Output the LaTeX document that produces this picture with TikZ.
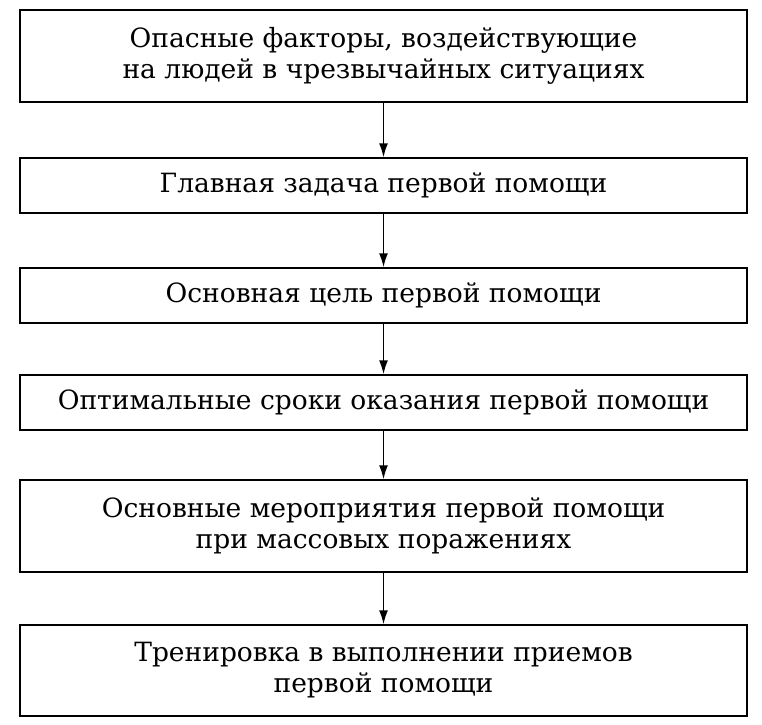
\documentclass[tikz,border=0pt]{standalone}
\usepackage{fontspec}
\setmainfont{DejaVu Serif}
\usetikzlibrary{arrows.meta}
\tikzset{every picture/.style={line width=1.5pt}}
\tikzset{stepbox/.style={draw, minimum width=727pt, align=center, inner sep=0pt, font=\fontsize{26.5}{31}\selectfont},
  flow/.style={-{Latex[length=14pt,width=9pt]}}}
\begin{document}
\begin{tikzpicture}[x=1pt,y=-1pt]
\useasboundingbox (0,0) rectangle (762,724);

% Text Node
\node [stepbox, minimum height=92pt] (fact) at (383.5,56) {Опасные факторы, воздействующие\\на людей в чрезвычайных ситуациях};
% Text Node
\node [stepbox, minimum height=55pt] (task) at (383.5,185.5) {Главная задача первой помощи};
% Text Node
\node [stepbox, minimum height=55pt] (goal) at (383.5,295.5) {Основная цель первой помощи};
% Text Node
\node [stepbox, minimum height=55pt] (time) at (383.5,402.5) {Оптимальные сроки оказания первой помощи};
% Text Node
\node [stepbox, minimum height=92pt] (meas) at (383.5,526) {Основные мероприятия первой помощи\\при массовых поражениях};
% Text Node
\node [stepbox, minimum height=91pt] (train) at (383.5,670.5) {Тренировка в выполнении приемов\\первой помощи};

%Straight Lines
\draw [flow] (fact) -- (task);
\draw [flow] (task) -- (goal);
\draw [flow] (goal) -- (time);
\draw [flow] (time) -- (meas);
\draw [flow] (meas) -- (train);

\end{tikzpicture}
\end{document}
